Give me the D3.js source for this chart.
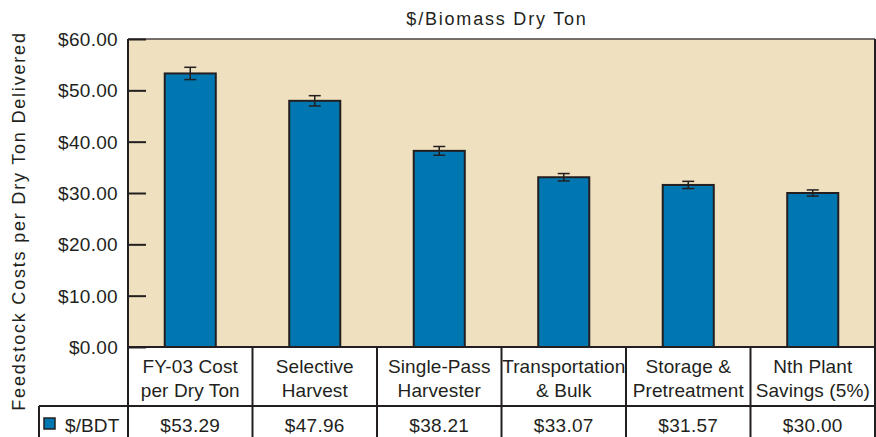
<!DOCTYPE html>
<html>
<head>
<meta charset="utf-8">
<script src="https://cdn.jsdelivr.net/npm/d3@7"></script>
<style>
  body { margin: 0; background: #fff; }
  text { font-family: "Liberation Sans", Arial, Helvetica, sans-serif; fill: #231f20; }
</style>
</head>
<body>
<script>
// chart data
var categories = [
    ["FY-03 Cost", "per Dry Ton"],
    ["Selective", "Harvest"],
    ["Single-Pass", "Harvester"],
    ["Transportation", "& Bulk"],
    ["Storage &", "Pretreatment"],
    ["Nth Plant", "Savings (5%)"]
];
var values = [53.29, 47.96, 38.21, 33.07, 31.57, 30.00];
var errors = [1.2, 1.0, 0.85, 0.72, 0.7, 0.6];
var yTicks = [0, 10, 20, 30, 40, 50, 60];
var seriesName = "$/BDT";
var chartTitle = "$/Biomass Dry Ton";
var yTitle = "Feedstock Costs per Dry Ton Delivered";

function drawChart() {

    var width = 876, height = 437;
    var left = 128, right = 875, top = 39, zero = 347;
    var headerBottom = 406, legendLeft = 39;
    var dark = "#231f20";

    var svg = d3.select("body")
        .append("svg")
        .attr("width", width)
        .attr("height", height);

    var idx = d3.range(values.length);

    var x = d3.scaleBand()
        .domain(idx)
        .range([left, right])
        .padding(0);

    var y = d3.scaleLinear()
        .domain([0, 60])
        .range([zero, top]);

    // plot background
    svg.append("rect")
        .attr("x", left)
        .attr("y", top)
        .attr("width", right - left)
        .attr("height", zero - top)
        .attr("fill", "#efe0bf");

    // top + right borders
    svg.append("line")
        .attr("x1", left).attr("x2", right)
        .attr("y1", top).attr("y2", top)
        .attr("stroke", "#4a4546").attr("stroke-width", 1.5);
    svg.append("line")
        .attr("x1", right).attr("x2", right)
        .attr("y1", top).attr("y2", zero)
        .attr("stroke", dark).attr("stroke-width", 2);

    // y axis
    var yAxis = svg.append("g")
        .attr("transform", "translate(" + left + ",0)")
        .call(d3.axisRight(y).tickValues(yTicks).tickSize(18).tickFormat(""));
    yAxis.select(".domain").remove();
    yAxis.selectAll("line").attr("stroke", dark).attr("stroke-width", 2);

    svg.append("g")
        .selectAll("text")
        .data(yTicks)
        .enter().append("text")
        .attr("x", 118)
        .attr("y", function(d) { return y(d) + 7; })
        .attr("text-anchor", "end")
        .style("font-size", "19px")
        .style("letter-spacing", "0.3px")
        .text(function(d) { return "$" + d.toFixed(2); });

    // bars
    var barW = x.bandwidth() * 0.41;
    svg.append("g")
        .selectAll("rect")
        .data(idx)
        .enter().append("rect")
        .attr("x", function(i) { return x(i) + (x.bandwidth() - barW) / 2; })
        .attr("y", function(i) { return y(values[i]); })
        .attr("width", barW)
        .attr("height", function(i) { return zero - y(values[i]); })
        .attr("fill", "#0077b0")
        .attr("stroke", dark)
        .attr("stroke-width", 2);

    // error bars
    var err = svg.append("g")
        .attr("stroke", dark)
        .attr("stroke-width", 1.5);
    idx.forEach(function(i) {
        var cx = x(i) + x.bandwidth() / 2;
        var hi = y(values[i] + errors[i]), lo = y(values[i] - errors[i]);
        err.append("line").attr("x1", cx).attr("x2", cx).attr("y1", hi).attr("y2", lo);
        err.append("line").attr("x1", cx - 6).attr("x2", cx + 6).attr("y1", hi).attr("y2", hi);
        err.append("line").attr("x1", cx - 6).attr("x2", cx + 6).attr("y1", lo).attr("y2", lo);
    });

    // table
    var grid = svg.append("g")
        .attr("stroke", dark)
        .attr("stroke-width", 2);
    grid.append("line").attr("x1", left).attr("x2", left).attr("y1", top).attr("y2", height);
    grid.append("line").attr("x1", left - 1).attr("x2", right + 1).attr("y1", zero).attr("y2", zero);
    grid.append("line").attr("x1", legendLeft).attr("x2", right).attr("y1", headerBottom).attr("y2", headerBottom);
    grid.append("line").attr("x1", legendLeft).attr("x2", legendLeft).attr("y1", headerBottom).attr("y2", height);
    idx.forEach(function(i) {
        var xe = x(i) + x.bandwidth();
        grid.append("line").attr("x1", xe).attr("x2", xe).attr("y1", zero).attr("y2", height);
    });

    // category labels
    var header = svg.append("g")
        .selectAll("text")
        .data(idx)
        .enter().append("text")
        .attr("text-anchor", "middle")
        .style("font-size", "19px")
        .style("letter-spacing", "0.1px");
    header.append("tspan")
        .attr("x", function(i) { return x(i) + x.bandwidth() / 2; })
        .attr("y", 373)
        .text(function(i) { return categories[i][0]; });
    header.append("tspan")
        .attr("x", function(i) { return x(i) + x.bandwidth() / 2; })
        .attr("y", 397)
        .text(function(i) { return categories[i][1]; });

    // value row
    svg.append("g")
        .selectAll("text")
        .data(idx)
        .enter().append("text")
        .attr("x", function(i) { return x(i) + x.bandwidth() / 2; })
        .attr("y", 432)
        .attr("text-anchor", "middle")
        .style("font-size", "19px")
        .style("letter-spacing", "0.3px")
        .text(function(i) { return "$" + values[i].toFixed(2); });

    // legend
    svg.append("rect")
        .attr("x", 44).attr("y", 418)
        .attr("width", 11).attr("height", 11)
        .attr("fill", "#0077b0")
        .attr("stroke", dark)
        .attr("stroke-width", 1.5);
    svg.append("text")
        .attr("x", 65).attr("y", 432)
        .style("font-size", "19px")
        .style("letter-spacing", "0.1px")
        .text(seriesName);

    // titles
    svg.append("text")
        .attr("x", 497).attr("y", 25)
        .attr("text-anchor", "middle")
        .style("font-size", "18px")
        .style("letter-spacing", "1.8px")
        .text(chartTitle);

    svg.append("text")
        .attr("transform", "translate(25,221) rotate(-90)")
        .attr("text-anchor", "middle")
        .style("font-size", "18px")
        .style("letter-spacing", "1.8px")
        .text(yTitle);
}

drawChart();
</script>
</body>
</html>
